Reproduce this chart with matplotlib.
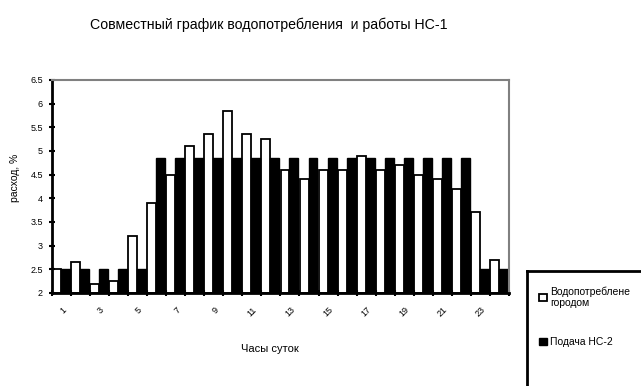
import numpy as np
import matplotlib.pyplot as plt
from matplotlib.lines import Line2D

plt.rcParams['font.family'] = ['Liberation Sans', 'DejaVu Sans']

# часы суток и расход, %
hours = np.arange(1, 25)
consumption = [2.5, 2.65, 2.2, 2.25, 3.2, 3.9, 4.5, 5.1, 5.35, 5.85, 5.35, 5.25,
               4.6, 4.4, 4.6, 4.6, 4.9, 4.6, 4.7, 4.5, 4.4, 4.2, 3.7, 2.7]
pump = [2.5, 2.5, 2.5, 2.5, 2.5, 4.85, 4.85, 4.85, 4.85, 4.85, 4.85, 4.85,
        4.85, 4.85, 4.85, 4.85, 4.85, 4.85, 4.85, 4.85, 4.85, 4.85, 2.5, 2.5]
yticks = np.arange(2, 6.51, 0.5)

fig = plt.figure(figsize=(6.41, 3.86), dpi=100)
ax = fig.add_axes([0.081, 0.241, 0.713, 0.552])

w = 0.47
b1 = ax.bar(hours - 0.26, np.array(consumption) - 2, w, bottom=2,
            color='white', edgecolor='black', linewidth=1.3,
            label='Водопотреблене\nгородом')
b2 = ax.bar(hours + 0.21, np.array(pump) - 2, w, bottom=2,
            color='black', edgecolor='black', linewidth=1.0,
            label='Подача НС-2')

ax.set_xlim(0.5, 24.5)
ax.set_ylim(2, 6.5)
ax.set_yticks(yticks)
ax.set_yticklabels([('%g' % v) for v in yticks], fontsize=6.5)
ax.set_xticks(np.arange(1, 24, 2))
ax.set_xticklabels([str(h) for h in range(1, 24, 2)], fontsize=6.5,
                   rotation=45, ha='right', rotation_mode='anchor')
ax.set_xticks(np.arange(0.5, 25, 1), minor=True)
ax.tick_params(axis='x', which='major', length=0, pad=9)
ax.tick_params(axis='x', which='minor', length=5, width=1.5, direction='inout')
ax.tick_params(axis='y', length=5, width=1.5, direction='inout', pad=4)

for s in ['top', 'right']:
    ax.spines[s].set_color('#808080')
    ax.spines[s].set_linewidth(1.5)
for s in ['left', 'bottom']:
    ax.spines[s].set_color('black')
    ax.spines[s].set_linewidth(2)

ax.set_xlabel('Часы суток', fontsize=8)
ax.xaxis.set_label_coords((270 - 52) / 457, -0.24)
ax.set_ylabel('расход, %', fontsize=7.5)
ax.yaxis.set_label_coords(-0.07, (293 - 178) / 213)
fig.suptitle('Совместный график водопотребления  и работы НС-1',
             x=0.419, y=0.955, fontsize=10.2)

# рамка легенды (выходит за край рисунка)
fig.add_artist(Line2D([527 / 641, 527 / 641], [0, 1 - 271 / 386],
                      color='black', linewidth=2))
fig.add_artist(Line2D([527 / 641, 1], [1 - 271 / 386, 1 - 271 / 386],
                      color='black', linewidth=2))
fig.legend(handles=[b1, b2], loc='upper left',
           bbox_to_anchor=(0.827, 0.283), frameon=False, fontsize=7.5,
           handlelength=0.7, handleheight=0.7, handletextpad=0.3,
           labelspacing=2.8)

fig.savefig('out.png', dpi=100)
